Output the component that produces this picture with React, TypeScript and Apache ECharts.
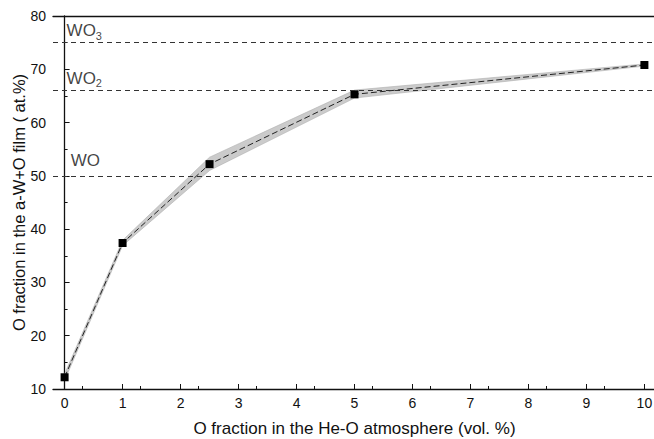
import React, { useEffect, useRef } from "react";
import * as echarts from "echarts";

const xValues = [0, 1, 2.5, 5, 10];
const yValues = [12.2, 37.4, 52.2, 65.3, 70.8];
const bandLower = [11.6, 36.9, 51.0, 64.6, 70.6];
const bandUpper = [12.8, 37.9, 53.5, 66.1, 71.0];
const refLevels = [75, 66, 50];
const refLabels = [
  { x: 0, y: 77.2, text: "{a|WO}{s|3}" },
  { x: 0, y: 68.3, text: "{a|WO}{s|2}" },
  { x: 0.07, y: 52.8, text: "{a|WO}" },
];
const xTicks = [0, 1, 2, 3, 4, 5, 6, 7, 8, 9, 10];

export default function App() {
  const ref = useRef<HTMLDivElement>(null);
  useEffect(() => {
    document.body.style.margin = "0";
    const chart = echarts.init(ref.current!, null, { renderer: "svg" });
    const font = "'Liberation Sans', Arial, sans-serif";
    const pts = xValues.map((x, i) => [x, yValues[i]]);
    const bandData = xValues.map((x, i) => [x, bandLower[i], bandUpper[i]]);
    chart.setOption({
      animation: false,
      backgroundColor: "#fff",
      textStyle: { fontFamily: font, color: "#111" },
      grid: { left: 53, top: 16, bottom: 50, right: -2, containLabel: false, outerBoundsMode: "none" },
      xAxis: [
        {
          type: "value",
          min: -0.2,
          max: 10.2,
          interval: 1,
          axisLine: { show: true, onZero: false, lineStyle: { color: "#111", width: 1.3 } },
          axisTick: { show: true, inside: true, length: 5, lineStyle: { color: "#111" }, customValues: xTicks },
          minorTick: { show: true, splitNumber: 2, length: 3, lineStyle: { color: "#111" } },
          axisLabel: {
            fontSize: 14,
            color: "#111",
            margin: 7,
            customValues: xTicks,
            fontFamily: font,
          },
          splitLine: { show: false },
          name: "O fraction in the He-O atmosphere (vol. %)",
          nameLocation: "middle",
          nameGap: 31,
          nameMoveOverlap: false,
          nameTextStyle: { fontSize: 17, color: "#111", fontFamily: font },
        },
        {
          type: "value",
          position: "top",
          min: -0.2,
          max: 10.2,
          axisLine: { show: true, lineStyle: { color: "#111", width: 1.3 } },
          axisTick: { show: false },
          axisLabel: { show: false },
          splitLine: { show: false },
        },
      ],
      yAxis: {
        type: "value",
        min: 10,
        max: 80,
        interval: 10,
        axisLine: { show: true, lineStyle: { color: "#111", width: 1.3 } },
        axisTick: { show: true, inside: true, length: 5, lineStyle: { color: "#111" } },
        minorTick: { show: true, splitNumber: 2, length: 3, lineStyle: { color: "#111" } },
        axisLabel: { fontSize: 14, color: "#111", margin: 7, fontFamily: font },
        splitLine: { show: false },
        name: "O fraction in the a-W+O film ( at.%)",
        nameLocation: "middle",
        nameGap: 26,
        nameMoveOverlap: false,
        nameTextStyle: { fontSize: 16.5, color: "#111", fontFamily: font },
      },
      series: [
        {
          type: "custom",
          silent: true,
          data: bandData,
          renderItem: (params: any, api: any) => {
            if (params.dataIndex !== 0) return null;
            const upper = bandData.map((d) => api.coord([d[0], d[2]]));
            const lower = bandData.map((d) => api.coord([d[0], d[1]])).reverse();
            return {
              type: "polygon",
              shape: { points: upper.concat(lower) },
              style: { fill: "#cbcbcb", stroke: "#b0b0b0", lineWidth: 0.6 },
            };
          },
          z: 1,
        },
        {
          type: "line",
          data: pts,
          symbol: "rect",
          symbolSize: 8,
          itemStyle: { color: "#000" },
          lineStyle: { color: "#222", width: 1, type: [6, 3] },
          z: 3,
          markLine: {
            silent: true,
            symbol: "none",
            label: { show: false },
            lineStyle: { color: "#333", width: 1, type: [5, 4] },
            data: refLevels.map((v) => ({ yAxis: v })),
          },
        },
        {
          type: "scatter",
          symbolSize: 0,
          data: refLabels.map((l) => ({ value: [l.x, l.y], label: { formatter: l.text } })),
          label: {
            show: true,
            position: "right",
            distance: 2,
            rich: {
              a: { fontSize: 17, color: "#111", fontFamily: font },
              s: { fontSize: 11, color: "#111", fontFamily: font, padding: [10, 0, 0, 0] },
            },
          },
          silent: true,
        },
      ],
    });
    return () => chart.dispose();
  }, []);
  return <div ref={ref} style={{ width: 654, height: 439 }} />;
}
